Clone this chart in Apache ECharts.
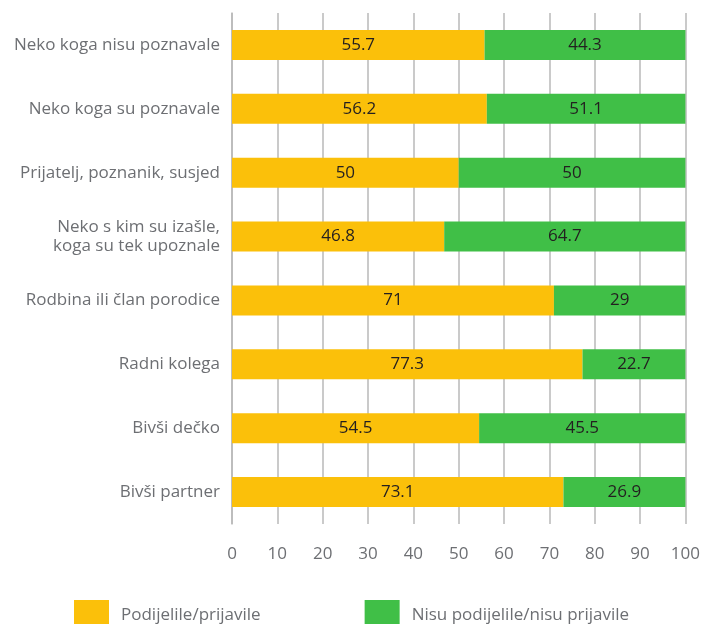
<!DOCTYPE html>
<html>
<head>
<meta charset="utf-8">
<script src="https://cdn.jsdelivr.net/npm/echarts@6/dist/echarts.min.js"></script>
<style>html,body{margin:0;padding:0;background:#fff}#c{width:703px;height:624px}</style>
</head>
<body>
<div id="c"></div>
<script>
const categories = ["Neko koga nisu poznavale","Neko koga su poznavale","Prijatelj, poznanik, susjed","Neko s kim su izašle,\nkoga su tek upoznale","Rodbina ili član porodice","Radni kolega","Bivši dečko","Bivši partner"];
const reported = [55.7, 56.2, 50, 46.8, 71, 77.3, 54.5, 73.1];
const notReported = [44.3, 51.1, 50, 64.7, 29, 22.7, 45.5, 26.9];
const xTicks = [0,10,20,30,40,50,60,70,80,90,100];
const seriesNames = ["Podijelile/prijavile","Nisu podijelile/nisu prijavile"];

const FONT = "Open Sans";
const TXT = '#6d6f73';
const chart = echarts.init(document.getElementById('c'));
chart.setOption({
  animation:false,
  textStyle:{fontFamily:FONT},
  grid:{left:232, right:13, top:13, bottom:100, containLabel:false},
  xAxis:{type:'value', min:xTicks[0], max:xTicks[xTicks.length-1], interval:10,
    axisLine:{show:false}, axisTick:{show:false},
    splitLine:{show:true, lineStyle:{color:'#b8b8b8', width:1.5}},
    axisLabel:{color:TXT, fontSize:17, margin:22, fontFamily:FONT}},
  yAxis:{type:'category', data:categories, inverse:true,
    axisLine:{show:true, lineStyle:{color:'#b8b8b8', width:1.5}},
    axisTick:{show:false},
    axisLabel:{color:TXT, fontSize:17, margin:12, lineHeight:19, fontFamily:FONT, align:'right'}},
  legend:{left:69, top:595, itemWidth:35, itemHeight:30, itemGap:104, icon:'rect',
    textStyle:{color:TXT, fontSize:17, fontFamily:FONT, padding:[0,0,0,7]},
    data:seriesNames},
  series:[
    {name:seriesNames[0], type:'bar', stack:'a', barWidth:30, data:reported,
     itemStyle:{color:'#FBC00A'},
     label:{show:true, position:'inside', color:'#231f20', fontSize:17, fontFamily:FONT}},
    {name:seriesNames[1], type:'bar', stack:'a', barWidth:30,
     data:reported.map(v=>+(100-v).toFixed(2)),
     itemStyle:{color:'#40BF47'},
     label:{show:true, position:'inside', color:'#231f20', fontSize:17, fontFamily:FONT,
       formatter:p=>String(notReported[p.dataIndex])}}
  ]
});
</script>
</body>
</html>
